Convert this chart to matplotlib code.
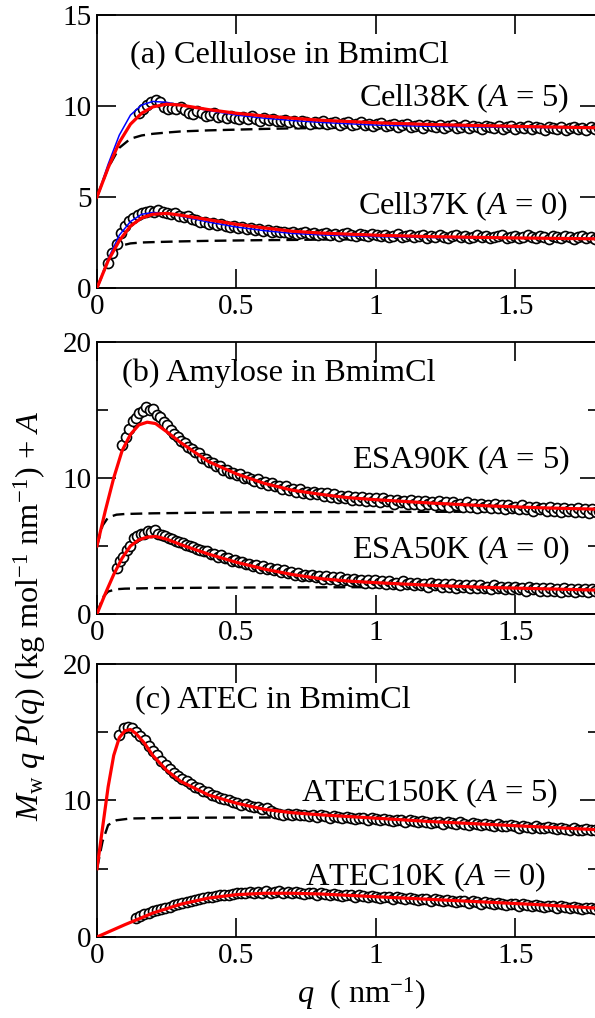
import matplotlib
matplotlib.use("Agg")
import matplotlib.pyplot as plt
import numpy as np
from matplotlib.ticker import FuncFormatter, MultipleLocator

plt.rcParams['font.family'] = ['Liberation Serif', 'DejaVu Serif']
plt.rcParams['mathtext.fontset'] = 'custom'
plt.rcParams['mathtext.rm'] = 'Liberation Serif'
plt.rcParams['mathtext.it'] = 'Liberation Serif:italic'

# ---------------- (a) Cellulose in BmimCl ----------------
cell38_q = [0.15, 1.80]
cell38_y = [9.6, 9.85, 10.05, 10.2, 10.35, 10.2, 9.95, 9.85, 9.9, 9.85, 9.95, 9.8, 9.6, 9.55, 9.7,
            9.6, 9.45, 9.5, 9.6, 9.4, 9.45, 9.35, 9.45, 9.35, 9.3, 9.4, 9.3, 9.45, 9.3, 9.2, 9.35,
            9.25, 9.3, 9.15, 9.2, 9.25, 9.1, 9.2, 9.05, 9.15, 9.1, 9.0, 9.1, 9.05, 9.15, 9.0, 9.05,
            9.1, 8.95, 9.05, 9.1, 8.95, 9.0, 9.1, 8.95, 9.0, 8.9, 9.0, 9.05, 8.9, 8.95, 9.0, 8.85,
            8.95, 9.0, 8.85, 8.9, 8.95, 8.8, 8.95, 8.9, 8.85, 8.95, 8.8, 8.9, 8.95, 8.8, 8.85, 8.95,
            8.8, 8.9, 8.85, 8.75, 8.9, 8.85, 8.8, 8.9, 8.75, 8.85, 8.9, 8.75, 8.85, 8.8, 8.9, 8.75,
            8.85, 8.8, 8.7, 8.85, 8.8, 8.75, 8.85, 8.7, 8.8, 8.85, 8.75, 8.8, 8.7, 8.85, 8.75, 8.8]
cell37_q = [0.04, 1.80]
cell37_y = [1.4, 1.9, 2.4, 3.0, 3.4, 3.7, 3.85, 4.0, 4.1, 4.2, 4.25, 4.2, 4.3, 4.15, 4.1, 4.05, 4.1,
            3.95, 3.9, 3.95, 3.8, 3.75, 3.65, 3.6, 3.5, 3.55, 3.45, 3.5, 3.4, 3.35, 3.4, 3.3, 3.35,
            3.25, 3.3, 3.2, 3.25, 3.15, 3.2, 3.1, 3.15, 3.05, 3.1, 3.0, 3.05, 2.95, 3.0, 3.05, 2.95,
            3.0, 2.9, 2.95, 3.0, 2.9, 2.95, 2.85, 2.95, 3.0, 2.9, 2.85, 2.95, 2.9, 2.85, 2.95, 2.9,
            2.85, 2.9, 2.8, 2.85, 2.95, 2.8, 2.85, 2.9, 2.8, 2.85, 2.9, 2.75, 2.85, 2.8, 2.9, 2.8,
            2.75, 2.85, 2.9, 2.8, 2.85, 2.75, 2.8, 2.9, 2.8, 2.85, 2.75, 2.8, 2.85, 2.9, 2.75, 2.8,
            2.85, 2.75, 2.8, 2.9, 2.8, 2.75, 2.85, 2.8, 2.7, 2.85, 2.8, 2.75, 2.85, 2.8, 2.7, 2.8,
            2.85, 2.75, 2.8, 2.7, 2.8]

a_fit_q = [0.0, 0.04, 0.08, 0.12, 0.16, 0.2, 0.25, 0.3, 0.4, 0.5, 0.6, 0.7, 0.8, 1.0, 1.2, 1.5, 1.8]
cell38_red = [5.0, 6.6, 8.0, 9.0, 9.6, 9.95, 10.1, 10.05, 9.8, 9.6, 9.45, 9.33, 9.22, 9.08, 8.98, 8.88, 8.8]
cell38_blue = [5.0, 6.8, 8.4, 9.5, 10.05, 10.25, 10.2, 10.05, 9.75, 9.5, 9.33, 9.2, 9.1, 8.95, 8.88, 8.82, 8.8]
cell38_dash = [5.0, 6.6, 7.7, 8.2, 8.38, 8.47, 8.54, 8.6, 8.66, 8.7, 8.74, 8.77, 8.79, 8.81, 8.83, 8.84, 8.85]
cell37_red = [0.0, 1.5, 2.6, 3.4, 3.85, 4.05, 4.1, 4.0, 3.75, 3.5, 3.3, 3.12, 3.02, 2.9, 2.82, 2.75, 2.7]
cell37_blue = [0.0, 1.6, 2.9, 3.65, 4.05, 4.15, 4.1, 3.95, 3.62, 3.35, 3.15, 3.0, 2.92, 2.82, 2.77, 2.74, 2.72]
cell37_dash = [0.0, 1.5, 2.3, 2.45, 2.5, 2.52, 2.54, 2.56, 2.59, 2.61, 2.63, 2.64, 2.66, 2.68, 2.69, 2.7, 2.7]

# ---------------- (b) Amylose in BmimCl ----------------
esa90_q = [0.09, 1.80]
esa90_y = [12.4, 13.0, 13.6, 14.2, 14.4, 14.8, 14.9, 15.2, 15.0, 15.1, 14.6, 14.5, 14.1, 13.9, 13.5,
           13.2, 13.0, 12.7, 12.6, 12.3, 12.1, 11.9, 11.8, 11.5, 11.4, 11.2, 11.1, 10.9, 10.9, 10.6,
           10.6, 10.4, 10.4, 10.2, 10.3, 10.0, 10.1, 9.9, 9.8, 9.9, 9.6, 9.7, 9.5, 9.6, 9.4, 9.4,
           9.2, 9.4, 9.1, 9.2, 9.0, 9.2, 8.9, 9.0, 8.8, 9.0, 8.8, 8.9, 8.7, 8.9, 8.6, 8.8, 8.5, 8.7,
           8.5, 8.7, 8.4, 8.6, 8.4, 8.6, 8.3, 8.5, 8.3, 8.5, 8.2, 8.5, 8.3, 8.4, 8.1, 8.4, 8.2, 8.3,
           8.1, 8.4, 8.1, 8.3, 8.0, 8.3, 8.1, 8.2, 8.0, 8.3, 8.0, 8.2, 7.9, 8.2, 8.0, 8.1, 7.9, 8.2,
           7.9, 8.1, 7.8, 8.1, 7.9, 8.0, 7.8, 8.1, 7.8, 8.0, 7.7, 8.0, 7.8, 7.9, 7.7, 8.0, 7.7, 7.9,
           7.6, 7.9, 7.7, 7.8, 7.6, 7.9, 7.6, 7.8, 7.5, 7.8, 7.6, 7.7, 7.5, 7.8, 7.5, 7.7, 7.4, 7.7,
           7.5, 7.6]
esa50_q = [0.07, 1.80]
esa50_y = [3.4, 3.9, 4.2, 4.7, 5.0, 5.6, 5.7, 5.9, 5.9, 6.1, 6.0, 6.2, 5.9, 5.8, 5.7, 5.6, 5.5, 5.4,
           5.3, 5.2, 5.1, 5.0, 4.9, 4.8, 4.7, 4.6, 4.6, 4.4, 4.4, 4.2, 4.3, 4.1, 4.1, 3.9, 4.0, 3.8,
           3.8, 3.7, 3.7, 3.5, 3.6, 3.4, 3.5, 3.3, 3.4, 3.2, 3.3, 3.1, 3.2, 3.0, 3.1, 2.9, 3.0, 2.8,
           2.9, 2.8, 2.9, 2.7, 2.8, 2.6, 2.8, 2.6, 2.7, 2.5, 2.7, 2.5, 2.6, 2.4, 2.6, 2.4, 2.5, 2.3,
           2.5, 2.3, 2.5, 2.3, 2.4, 2.2, 2.4, 2.2, 2.3, 2.1, 2.4, 2.2, 2.3, 2.1, 2.3, 2.1, 2.2, 2.0,
           2.3, 2.1, 2.2, 2.0, 2.2, 2.0, 2.2, 1.9, 2.1, 2.0, 2.1, 1.9, 2.1, 1.9, 2.1, 1.9, 2.0, 1.8,
           2.1, 1.9, 2.0, 1.8, 2.0, 1.8, 2.0, 1.8, 1.9, 1.7, 2.0, 1.8, 1.9, 1.7, 1.9, 1.7, 1.9, 1.7,
           1.8, 1.6, 1.9, 1.7, 1.8, 1.6, 1.8, 1.7, 1.8, 1.6, 1.8, 1.7, 1.7]

b_fit_q = [0.0, 0.03, 0.06, 0.09, 0.12, 0.15, 0.18, 0.21, 0.25, 0.3, 0.35, 0.4, 0.5, 0.6, 0.7,
           0.8, 0.9, 1.0, 1.2, 1.4, 1.6, 1.8]
esa90_red = [5.0, 7.6, 10.0, 12.0, 13.2, 13.9, 14.1, 14.0, 13.4, 12.6, 11.9, 11.2, 10.3, 9.6, 9.1,
             8.8, 8.55, 8.4, 8.15, 7.95, 7.8, 7.7]
esa50_red = [0.0, 1.5, 2.9, 4.1, 5.0, 5.45, 5.65, 5.7, 5.5, 5.1, 4.75, 4.4, 3.8, 3.3, 2.9, 2.6,
             2.42, 2.3, 2.1, 1.95, 1.85, 1.75]
b_dash_q = [0.0, 0.02, 0.04, 0.07, 0.1, 0.2, 0.4, 0.6, 1.0, 1.4, 1.8]
esa90_dash = [5.0, 6.5, 7.1, 7.3, 7.35, 7.4, 7.45, 7.48, 7.5, 7.52, 7.55]
esa50_dash = [0.0, 1.2, 1.65, 1.82, 1.86, 1.9, 1.93, 1.95, 1.97, 1.99, 2.0]

# ---------------- (c) ATEC in BmimCl ----------------
atec150_q = [0.08, 1.80]
atec150_y = [14.8, 15.3, 15.4, 15.3, 15.0, 14.7, 14.4, 14.0, 13.6, 13.3, 12.9, 12.6, 12.3, 12.0,
             11.8, 11.6, 11.4, 11.2, 11.0, 10.9, 10.7, 10.6, 10.4, 10.3, 10.2, 10.1, 10.0, 9.9, 9.85,
             9.7, 9.75, 9.6, 9.55, 9.5, 9.4, 9.45, 9.2, 9.1, 9.0, 8.95, 9.0, 8.9, 9.0, 8.9, 8.95,
             8.85, 8.9, 8.8, 8.9, 8.85, 8.75, 8.85, 8.8, 8.7, 8.8, 8.75, 8.65, 8.75, 8.7, 8.6, 8.7,
             8.65, 8.55, 8.65, 8.6, 8.5, 8.6, 8.55, 8.45, 8.55, 8.5, 8.4, 8.5, 8.45, 8.35, 8.45, 8.4,
             8.3, 8.45, 8.35, 8.3, 8.4, 8.3, 8.2, 8.35, 8.25, 8.2, 8.3, 8.2, 8.1, 8.25, 8.15, 8.1,
             8.2, 8.1, 8.0, 8.15, 8.05, 8.0, 8.1, 8.0, 7.95, 8.05, 7.95, 7.9, 8.0, 7.9, 7.85, 7.95,
             7.85, 7.8, 7.9, 7.85, 7.8, 7.9]
atec10_q = [0.14, 1.80]
atec10_y = [1.4, 1.55, 1.65, 1.75, 1.9, 1.95, 2.05, 2.15, 2.2, 2.35, 2.4, 2.5, 2.55, 2.65, 2.7, 2.8,
            2.85, 2.9, 2.95, 3.0, 3.05, 3.1, 3.1, 3.15, 3.2, 3.25, 3.2, 3.3, 3.25, 3.3, 3.25, 3.35,
            3.25, 3.3, 3.35, 3.25, 3.3, 3.2, 3.3, 3.25, 3.15, 3.25, 3.2, 3.1, 3.2, 3.15, 3.05, 3.15,
            3.1, 3.0, 3.1, 3.05, 2.95, 3.05, 3.0, 2.9, 3.0, 2.95, 2.85, 2.95, 2.9, 2.8, 2.9, 2.85,
            2.75, 2.85, 2.8, 2.7, 2.8, 2.75, 2.65, 2.75, 2.7, 2.6, 2.7, 2.65, 2.55, 2.65, 2.6, 2.5,
            2.6, 2.55, 2.45, 2.55, 2.5, 2.4, 2.5, 2.45, 2.35, 2.45, 2.4, 2.3, 2.4, 2.35, 2.25, 2.35,
            2.3, 2.2, 2.3, 2.25, 2.15, 2.25, 2.2, 2.1, 2.2, 2.15, 2.05, 2.15, 2.1, 2.05, 2.1]

atec150_fit_q = [0.0, 0.02, 0.04, 0.06, 0.08, 0.1, 0.12, 0.14, 0.17, 0.2, 0.25, 0.3, 0.35, 0.4,
                 0.5, 0.6, 0.7, 0.8, 1.0, 1.2, 1.4, 1.6, 1.8]
atec150_red = [5.0, 8.0, 11.0, 13.3, 14.6, 15.1, 15.2, 14.9, 14.2, 13.3, 12.2, 11.4, 10.9, 10.4,
               9.8, 9.35, 9.1, 8.95, 8.7, 8.45, 8.25, 8.05, 7.85]
atec150_dash_q = [0.0, 0.02, 0.04, 0.07, 0.12, 0.3, 0.5, 0.66]
atec150_dash = [5.0, 7.0, 8.2, 8.55, 8.68, 8.73, 8.75, 8.75]
atec10_fit_q = [0.0, 0.1, 0.2, 0.3, 0.4, 0.5, 0.6, 0.7, 0.8, 0.9, 1.0, 1.2, 1.4, 1.6, 1.8]
atec10_red = [0.0, 0.9, 1.75, 2.4, 2.85, 3.1, 3.2, 3.2, 3.15, 3.05, 2.95, 2.75, 2.55, 2.35, 2.1]

# ---------------- figure ----------------
fig = plt.figure(figsize=(5.95, 10.18), dpi=100)
ax_a = fig.add_axes([0.163, 0.7171, 0.8437, 0.2682])
ax_b = fig.add_axes([0.163, 0.3969, 0.8437, 0.2672])
ax_c = fig.add_axes([0.163, 0.0796, 0.8437, 0.2682])


def circles(ax, qr, y):
    q = np.linspace(qr[0], qr[1], len(y))
    ax.plot(q, y, 'o', ms=7.2, mfc='white', mec='black', mew=1.2, zorder=2, clip_on=False)


def dashed(ax, q, y):
    ax.plot(q, y, color='black', lw=1.7, ls=(0, (5, 2.6)), zorder=1)


def red(ax, q, y):
    ax.plot(q, y, color='#ff0000', lw=2.3, zorder=4)


def blue(ax, q, y):
    ax.plot(q, y, color='#0000ff', lw=1.1, zorder=3)


# panel a
dashed(ax_a, a_fit_q, cell38_dash)
dashed(ax_a, a_fit_q, cell37_dash)
circles(ax_a, cell38_q, cell38_y)
circles(ax_a, cell37_q, cell37_y)
blue(ax_a, a_fit_q, cell38_blue)
blue(ax_a, a_fit_q, cell37_blue)
red(ax_a, a_fit_q, cell38_red)
red(ax_a, a_fit_q, cell37_red)

# panel b
dashed(ax_b, b_dash_q, esa90_dash)
dashed(ax_b, b_dash_q, esa50_dash)
circles(ax_b, esa90_q, esa90_y)
circles(ax_b, esa50_q, esa50_y)
red(ax_b, b_fit_q, esa90_red)
red(ax_b, b_fit_q, esa50_red)

# panel c
dashed(ax_c, atec150_dash_q, atec150_dash)
circles(ax_c, atec150_q, atec150_y)
circles(ax_c, atec10_q, atec10_y)
red(ax_c, atec150_fit_q, atec150_red)
red(ax_c, atec10_fit_q, atec10_red)

fs = 21
ft = 23.3
for ax in (ax_a, ax_b, ax_c):
    ax.set_xlim(0, 1.8)
    ax.xaxis.set_major_locator(MultipleLocator(0.5))
    ax.xaxis.set_major_formatter(FuncFormatter(lambda v, p: f"{v:g}"))
    ax.tick_params(which='both', direction='in', top=True, right=True,
                   labelsize=fs, width=1.2, pad=4)
    ax.tick_params(which='major', length=14)
    ax.tick_params(which='minor', length=8)
    for s in ax.spines.values():
        s.set_linewidth(1.3)

ax_a.set_ylim(0, 15)
ax_a.yaxis.set_major_locator(MultipleLocator(5))
for ax in (ax_b, ax_c):
    ax.set_ylim(0, 20)
    ax.yaxis.set_major_locator(MultipleLocator(10))
    ax.yaxis.set_minor_locator(MultipleLocator(5))

ax_a.text(0.118, 12.8, "(a) Cellulose in BmimCl", fontsize=ft, va='center')
ax_a.text(1.695, 10.4, "Cell38K ($A$ = 5)", fontsize=ft, va='center', ha='right')
ax_a.text(1.69, 4.5, "Cell37K ($A$ = 0)", fontsize=ft, va='center', ha='right')

ax_b.text(0.09, 17.7, "(b) Amylose in BmimCl", fontsize=ft, va='center')
ax_b.text(1.695, 11.3, "ESA90K ($A$ = 5)", fontsize=ft, va='center', ha='right')
ax_b.text(1.695, 4.7, "ESA50K ($A$ = 0)", fontsize=ft, va='center', ha='right')

ax_c.text(0.136, 17.4, "(c) ATEC in BmimCl", fontsize=ft, va='center')
ax_c.text(1.652, 10.55, "ATEC150K ($A$ = 5)", fontsize=ft, va='center', ha='right')
ax_c.text(1.61, 4.4, "ATEC10K ($A$ = 0)", fontsize=ft, va='center', ha='right')

fig.text(0.05, 0.395, r"$M_\mathrm{w}\ q\ P(q)$ (kg mol$^{-1}$ nm$^{-1}$) + $A$",
         fontsize=ft, rotation=90, ha='center', va='center')
fig.text(0.608, 0.024, r"$q$  ( nm$^{-1}$)", fontsize=ft, ha='center', va='center')

fig.savefig("out.png", dpi=100)
